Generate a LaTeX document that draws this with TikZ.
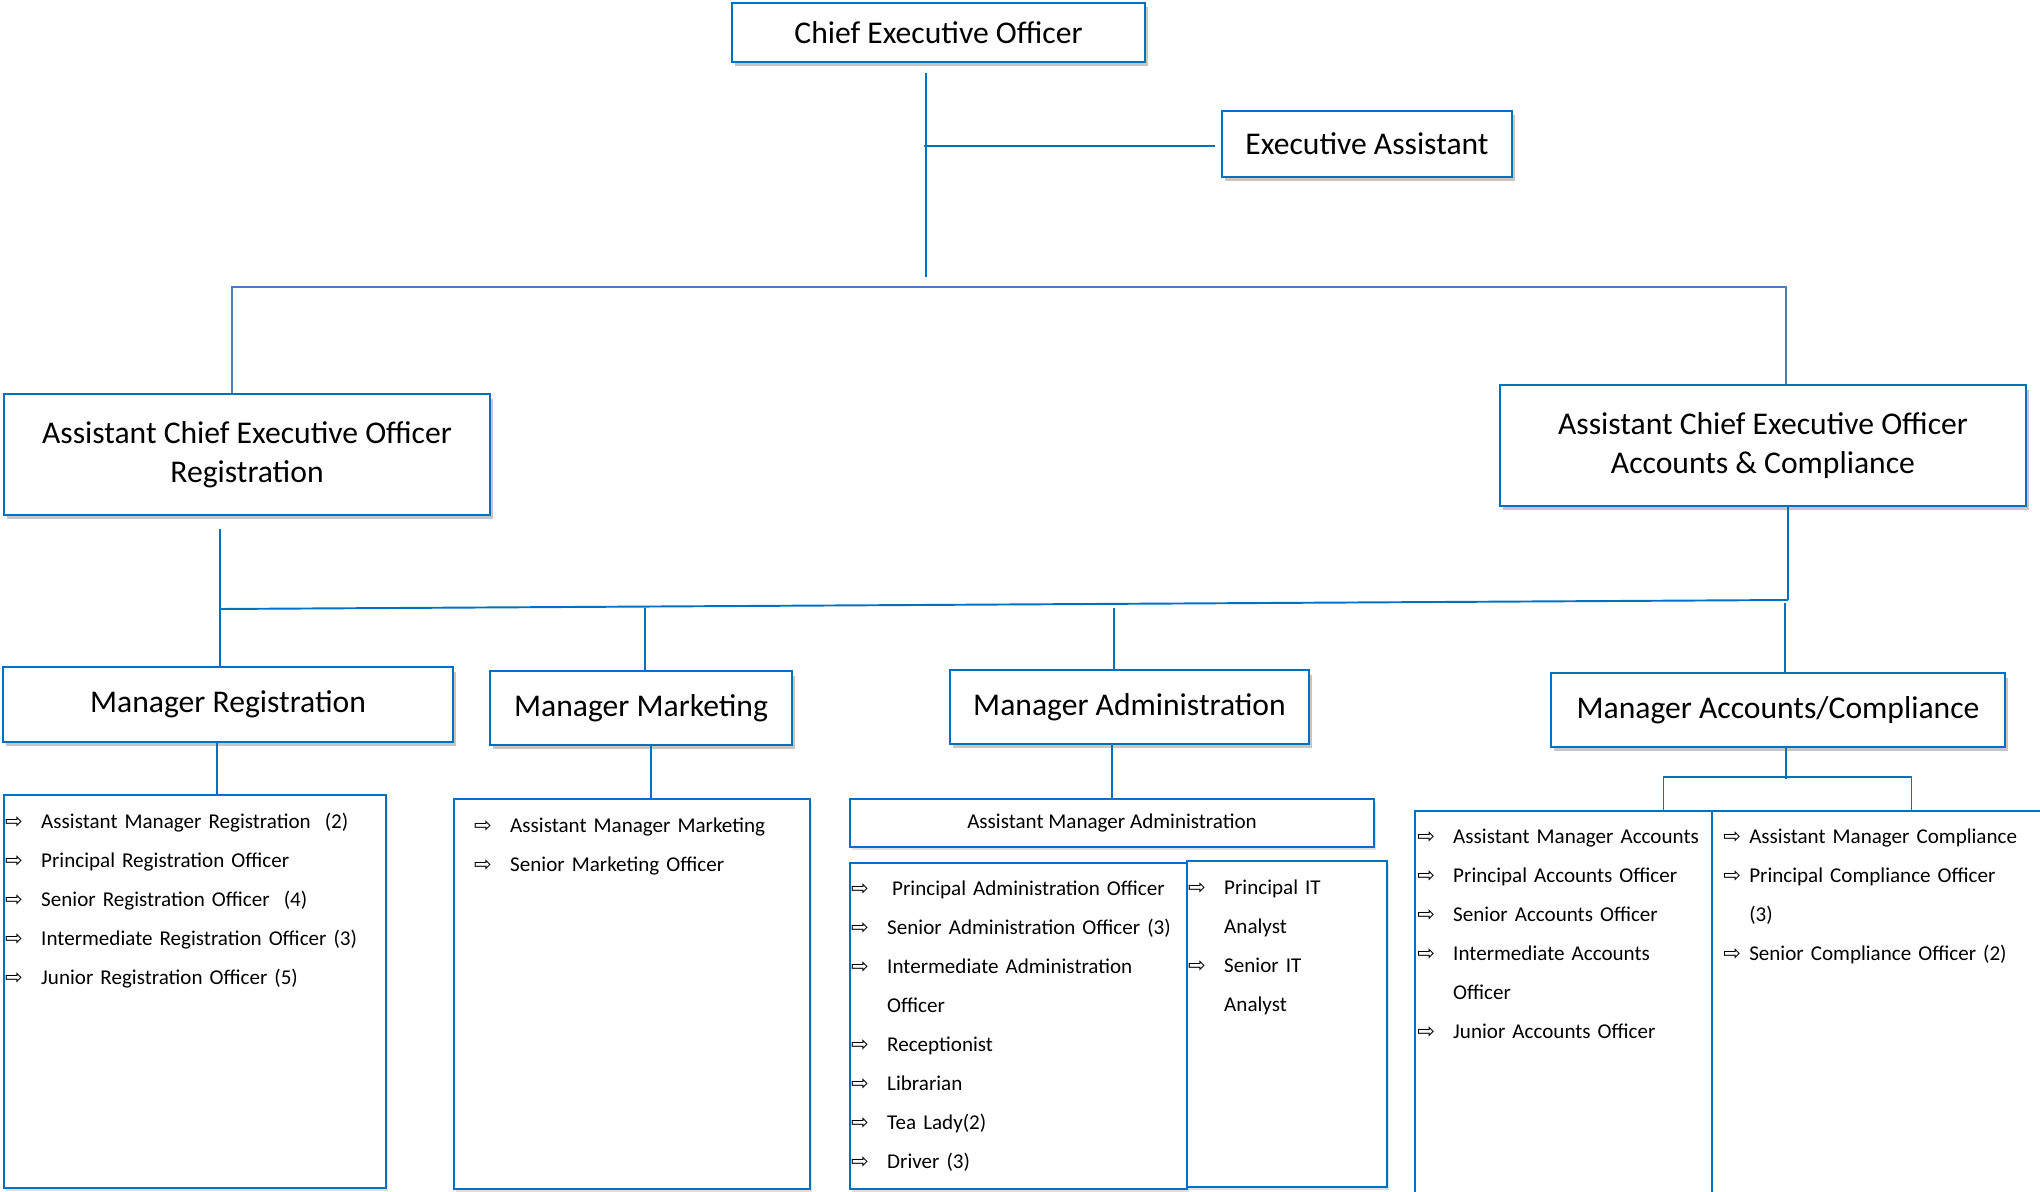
\documentclass[tikz,border=0pt]{standalone}
\usepackage{fontspec}
\setmainfont{Carlito}
\newfontfamily\arrfont{DejaVu Sans}
\usetikzlibrary{calc, shadows}
\definecolor{orgblue}{RGB}{0,112,192}
\definecolor{busblue}{RGB}{74,126,187}
\newcommand{\itm}[2][0.72cm]{\makebox[#1][l]{\arrfont\fontsize{12}{12}\selectfont ⇨}#2}
\newcommand{\cont}[2][0.72cm]{\hspace*{#1}#2}

\begin{document}
\begin{tikzpicture}[x=0.02cm, y=-0.02cm,
		hbox/.style={draw=orgblue, line width=1.3pt, fill=white, align=center,
			font=\fontsize{18}{22.2}\selectfont, inner sep=2pt,
			drop shadow={shadow xshift=0.06cm, shadow yshift=-0.09cm, opacity=0.45}},
		lbox/.style={draw=orgblue, line width=1.3pt, fill=white, inner sep=0pt,
			drop shadow={shadow xshift=0.04cm, shadow yshift=-0.06cm, opacity=0.25}},
		lst/.style={anchor=base west, inner sep=0pt, align=left, text width=9cm,
			font=\fontsize{12}{22.2}\selectfont},
		conn/.style={draw=orgblue, line width=1.1pt},
		bus/.style={draw=busblue, line width=1.1pt}]
	
	\useasboundingbox (0,0) rectangle (2040,1192);
	
	%% -- top level --
	\node[hbox, minimum width=8.26cm, minimum height=1.18cm] (ceo) at (938.5,32.5)
	{Chief Executive Officer};
	\node[hbox, minimum width=5.8cm, minimum height=1.32cm] (ea) at (1367,144)
	{Executive Assistant};
	
	\node[hbox, minimum width=9.72cm, minimum height=2.42cm] (aceoreg) at (247,454.5)
	{Assistant Chief Executive Officer\\Registration};
	\node[hbox, minimum width=10.52cm, minimum height=2.42cm] (aceoacc) at (1763,445.5)
	{Assistant Chief Executive Officer\\Accounts \& Compliance};
	
	%% -- managers --
	\node[hbox, minimum width=9.0cm, minimum height=1.5cm] (mreg) at (228,704.5)
	{Manager Registration};
	\node[hbox, minimum width=6.04cm, minimum height=1.48cm] (mmkt) at (641,708)
	{Manager Marketing};
	\node[hbox, minimum width=7.18cm, minimum height=1.48cm] (madm) at (1129.5,707)
	{Manager Administration};
	\node[hbox, minimum width=9.08cm, minimum height=1.48cm] (macc) at (1778,710)
	{Manager Accounts/Compliance};
	
	\node[lbox, minimum width=10.48cm, minimum height=0.96cm,
	font=\fontsize{12}{14}\selectfont] (amadm) at (1112,823)
	{Assistant Manager Administration};
	
	%% -- staff lists --
	\node[lbox, minimum width=7.64cm, minimum height=7.86cm] (reglist) at (195,991.5) {};
	\node[lbox, minimum width=7.12cm, minimum height=7.8cm] (mktlist) at (632,994) {};
	\node[lbox, minimum width=6.74cm, minimum height=6.52cm] (admlist) at (1018.5,1026) {};
	\node[lbox, minimum width=4.0cm, minimum height=6.52cm] (itlist) at (1287,1024) {};
	\node[lbox, minimum width=5.94cm, minimum height=7.78cm] (acclist) at (1563.5,1005.5) {};
	\node[lbox, minimum width=6.66cm, minimum height=7.78cm] (cmplist) at (1878.5,1005.5) {};
	
	\node[lst] (regtxt) at ($(reglist.north west)+(2,35)$)
	{\itm{Assistant Manager Registration~~(2)}\\
		\itm{Principal Registration Officer}\\
		\itm{Senior Registration Officer~~(4)}\\
		\itm{Intermediate Registration Officer (3)}\\
		\itm{Junior Registration Officer (5)}};
	
	\node[lst] (mkttxt) at ($(mktlist.north west)+(21,35)$)
	{\itm{Assistant Manager Marketing}\\
		\itm{Senior Marketing Officer}};
	
	\node[lst] (admtxt) at ($(admlist.north west)+(2,34)$)
	{\itm{\hspace{0.1cm}Principal Administration Officer}\\
		\itm{Senior Administration Officer (3)}\\
		\itm{Intermediate Administration}\\
		\cont{Officer}\\
		\itm{Receptionist}\\
		\itm{Librarian}\\
		\itm{Tea Lady(2)}\\
		\itm{Driver (3)}};
	
	\node[lst] (ittxt) at ($(itlist.north west)+(2,35)$)
	{\itm{Principal IT}\\
		\cont{Analyst}\\
		\itm{Senior IT}\\
		\cont{Analyst}};
	
	\node[lst] (acctxt) at ($(acclist.north west)+(3,34)$)
	{\itm{Assistant Manager Accounts}\\
		\itm{Principal Accounts Officer}\\
		\itm{Senior Accounts Officer}\\
		\itm{Intermediate Accounts}\\
		\cont{Officer}\\
		\itm{Junior Accounts Officer}};
	
	\node[lst] (cmptxt) at ($(cmplist.north west)+(12,34)$)
	{\itm[0.52cm]{Assistant Manager Compliance}\\
		\itm[0.52cm]{Principal Compliance Officer}\\
		\cont[0.52cm]{(3)}\\
		\itm[0.52cm]{Senior Compliance Officer (2)}};
	
	%% -- connectors --
	\coordinate (ceotop) at (926,73);
	\coordinate (ceobot) at (926,277);
	\coordinate (eaj) at (924,146);
	\coordinate (busl) at (220,609);
	\coordinate (busr) at (1788,600);
	
	\draw[conn] (ceotop) -- (ceobot);
	\draw[conn] (eaj) -- ([xshift=-0.12cm]eaj -| ea.west);
	\draw[bus] ([xshift=-0.3cm]aceoreg.north) -- ++(0,-106) -| ([xshift=0.46cm]aceoacc.north);
	
	\draw[conn] ([xshift=-0.54cm,yshift=-0.26cm]aceoreg.south) -- ([xshift=-0.16cm]mreg.north);
	\draw[conn] (aceoacc.south -| busr) -- (busr);
	\draw[conn] (busl) -- (busr);
	\draw[conn] ([xshift=0.08cm]mmkt.north) -- ++(0,-62);
	\draw[conn] ([xshift=-0.31cm]madm.north) -- ++(0,-61);
	\draw[conn] ([xshift=0.14cm]macc.north) -- ++(0,-69);
	
	\draw[conn] ([xshift=-0.22cm]mreg.south) -- ++(0,53);
	\draw[conn] ([xshift=0.2cm]mmkt.south) -- ++(0,54);
	\draw[conn] (madm.south -| amadm.north) -- (amadm.north);
	\draw[conn] ([xshift=0.16cm]macc.south) -- ++(0,31);
	\draw[conn] ([xshift=2cm]acclist.north) -- ++(0,-33) -| ([xshift=0.66cm]cmplist.north);
	
\end{tikzpicture}
\end{document}
